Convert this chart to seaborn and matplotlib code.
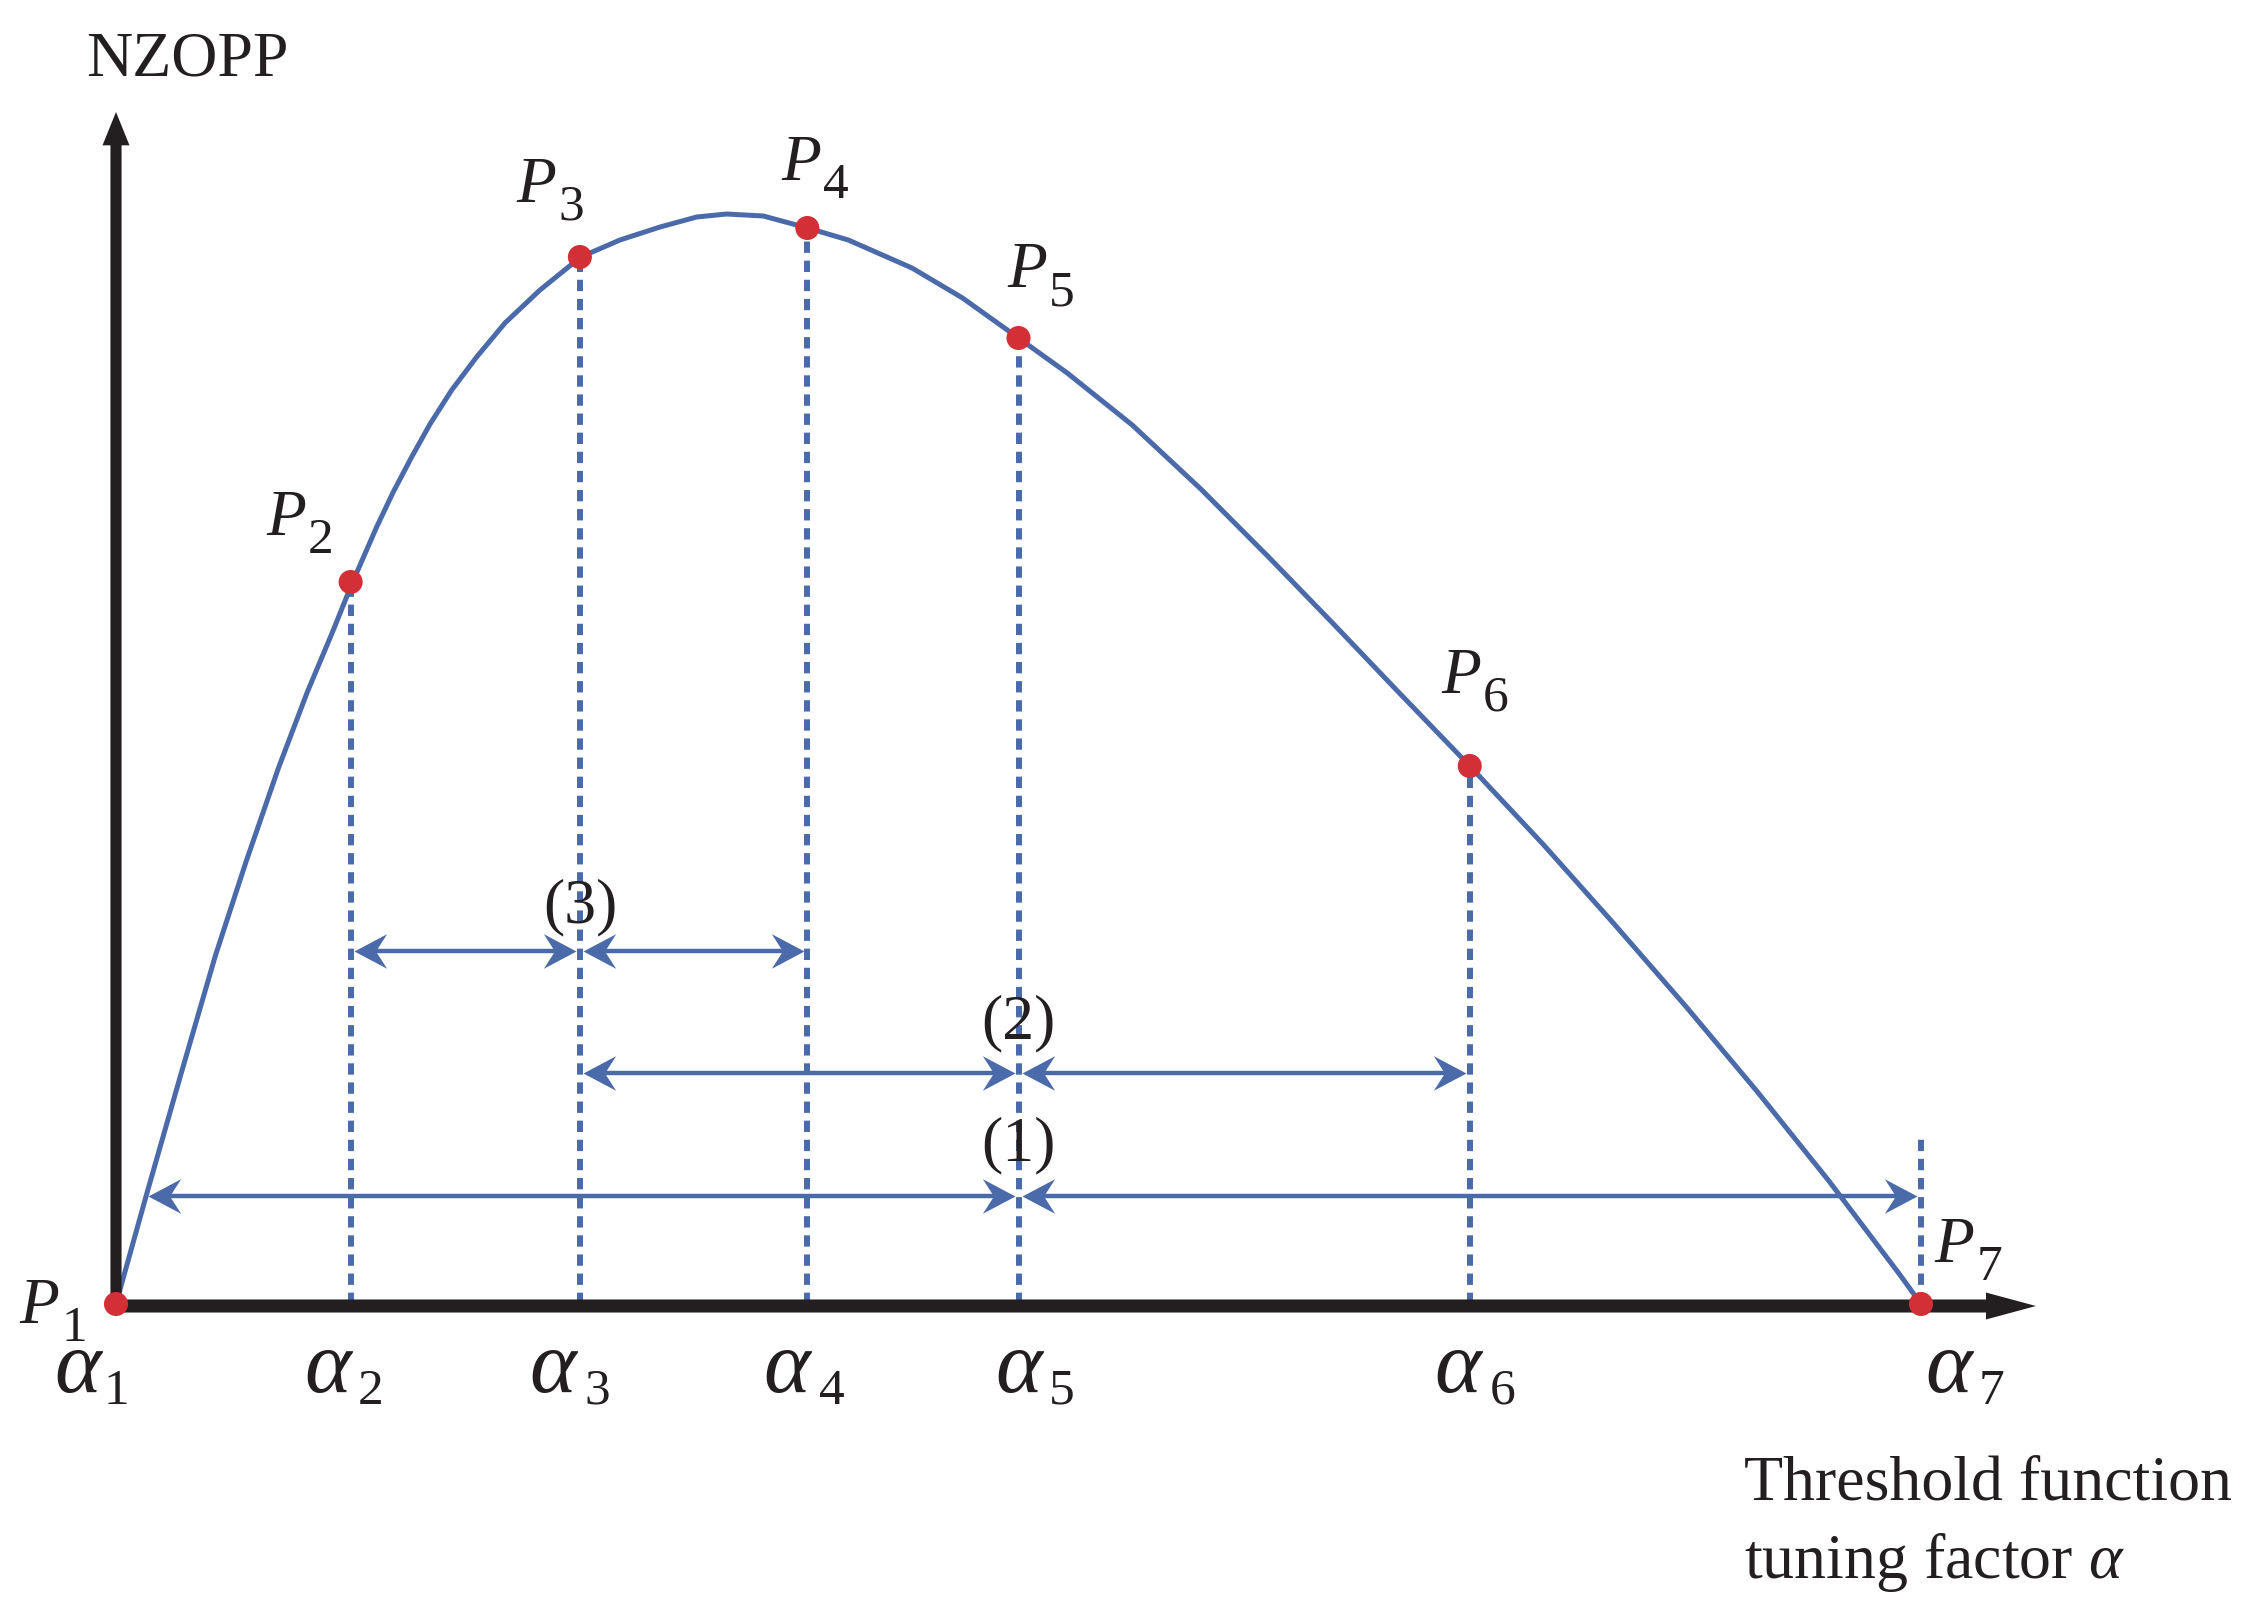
import numpy as np
import pandas as pd
import seaborn as sns
import matplotlib.pyplot as plt
from matplotlib.path import Path

# threshold function tuning factor alpha_1..alpha_7 and NZOPP at points P1..P7
alpha = [0.0, 1.3, 2.57, 3.83, 5.0, 7.5, 10.0]
nzopp = [0.0, 7.22, 10.47, 10.76, 9.66, 5.38, 0.0]
point_names = ["1", "2", "3", "4", "5", "6", "7"]

# NZOPP curve
curve_x = [0.0, 0.17, 0.36, 0.55, 0.72, 0.90, 1.06, 1.195, 1.311, 1.444, 1.536, 1.638,
           1.740, 1.860, 1.998, 2.155, 2.349, 2.575, 2.792, 3.014, 3.217, 3.383, 3.586,
           3.832, 4.057, 4.41, 4.69, 5.0, 5.27, 5.63, 6.01, 6.38, 6.74, 7.11, 7.5, 7.91,
           8.30, 8.70, 9.09, 9.49, 9.88, 10.0]
curve_y = [0.0, 1.10, 2.30, 3.48, 4.42, 5.36, 6.12, 6.70, 7.22, 7.77, 8.12, 8.47,
           8.80, 9.14, 9.47, 9.81, 10.14, 10.47, 10.64, 10.77, 10.87, 10.90, 10.88,
           10.76, 10.64, 10.36, 10.06, 9.66, 9.31, 8.79, 8.15, 7.48, 6.81, 6.11, 5.38, 4.59,
           3.80, 2.97, 2.13, 1.23, 0.30, 0.0]

# dashed guide at alpha_7 only reaches this height
guide7_top = 1.67

# double-headed interval arrows (1), (2), (3)
arrow_left = [1.3, 2.57, 2.57, 5.0, 0.16, 5.0]
arrow_right = [2.57, 3.83, 5.0, 7.5, 5.0, 10.0]
arrow_level = [3.53, 3.53, 2.31, 2.31, 1.08, 1.08]
interval_names = ["(3)", "(2)", "(1)"]
interval_x = [2.57, 5.0, 5.0]
interval_y = [3.82, 2.66, 1.44]

# label placement
p_label_x = [-0.427, 0.942, 2.327, 3.795, 5.047, 7.452, 10.183]
p_label_y = [-0.19, 7.69, 11.02, 11.24, 10.17, 6.11, 0.42]
a_label_x = [-0.211, 1.175, 2.421, 3.717, 5.003, 7.435, 10.155]
a_sub_x = [0.0, 1.413, 2.665, 3.967, 5.241, 7.684, 10.393]

blue = "#4a6aa9"
red = "#d22f36"
black = "#231f20"

sns.set_style("white")
plt.rcParams['font.family'] = ['Liberation Serif', 'DejaVu Serif']
plt.rcParams['mathtext.fontset'] = 'custom'
plt.rcParams['mathtext.rm'] = 'Liberation Serif'
plt.rcParams['mathtext.it'] = 'Liberation Serif:italic'

fig = plt.figure(figsize=(22.6, 16.16), dpi=100)
ax = fig.add_axes([0, 0, 1, 1])
ax.set_xlim(-116 / 180.5, (2260 - 116) / 180.5)
ax.set_ylim((1304 - 1616) / 100, 1304 / 100)
ax.axis("off")

# dashed guides from the axis up to each point
ax.vlines(alpha[1:6], 0, nzopp[1:6], colors=blue, lw=4.3, linestyles=(0, (1.9, 1.3)), zorder=1)
ax.vlines([alpha[6]], 0, guide7_top, colors=blue, lw=4.3, linestyles=(0, (1.9, 1.3)), zorder=1)

# curve and points
df = pd.DataFrame({"alpha": curve_x, "NZOPP": curve_y})
sns.lineplot(data=df, x="alpha", y="NZOPP", ax=ax, color=blue, lw=3.6, sort=False,
             estimator=None, zorder=3, solid_joinstyle="round")

# axes drawn as arrows
ax.annotate("", xy=(10.637, -0.02), xytext=(-0.03, -0.02),
            arrowprops=dict(arrowstyle="simple,head_length=1.8,head_width=0.97,tail_width=0.47",
                            mutation_scale=20, fc=black, ec="none", shrinkA=0, shrinkB=0),
            zorder=4)
ax.annotate("", xy=(0, 11.92), xytext=(0, -0.08),
            arrowprops=dict(arrowstyle="simple,head_length=1.2,head_width=0.97,tail_width=0.4",
                            mutation_scale=20, fc=black, ec="none", shrinkA=0, shrinkB=0),
            zorder=4)

sns.scatterplot(x=alpha, y=nzopp, ax=ax, s=300, color=red, edgecolor="none", zorder=6)

# stealth arrow heads
head_r = Path([(0, 0), (-1, 0.53), (-0.66, 0), (-1, -0.53), (0, 0)],
              [Path.MOVETO, Path.LINETO, Path.LINETO, Path.LINETO, Path.CLOSEPOLY])
head_l = Path([(0, 0), (1, 0.53), (0.66, 0), (1, -0.53), (0, 0)],
              [Path.MOVETO, Path.LINETO, Path.LINETO, Path.LINETO, Path.CLOSEPOLY])
for a, b, lev in zip(arrow_left, arrow_right, arrow_level):
    a = a + 0.02
    b = b - 0.02
    ax.annotate("", xy=(b, lev), xytext=(a, lev),
                arrowprops=dict(arrowstyle="-", color=blue, lw=3.2, shrinkA=12, shrinkB=12),
                zorder=2)
    ax.plot([a], [lev], marker=head_l, markersize=47, color=blue, mew=0, ls="none", zorder=2)
    ax.plot([b], [lev], marker=head_r, markersize=47, color=blue, mew=0, ls="none", zorder=2)

for name, x, y in zip(interval_names, interval_x, interval_y):
    ax.text(x, y, name, fontsize=46, ha="center", va="baseline", color=black)

# point labels P_i
for i in range(len(alpha)):
    ax.text(p_label_x[i], p_label_y[i], "P", fontsize=47, style="italic",
            ha="center", va="baseline", color=black)
    ax.text(p_label_x[i] + 0.194, p_label_y[i] - 0.18, point_names[i], fontsize=37,
            ha="center", va="baseline", color=black)

# tick labels alpha_i
for i in range(len(alpha)):
    ax.text(a_label_x[i], -0.88, "\u03b1", fontsize=64, style="italic",
            ha="center", va="baseline", color=black)
    ax.text(a_sub_x[i], -1.00, point_names[i], fontsize=37,
            ha="center", va="baseline", color=black)

ax.text(-0.166, 12.29, "NZOPP", fontsize=46, ha="left", va="baseline", color=black)
ax.text(9.02, -1.95, "Threshold function", fontsize=46, ha="left", va="baseline", color=black)
ax.text(9.02, -2.74, r"tuning factor $\alpha$", fontsize=46, ha="left", va="baseline", color=black)

plt.savefig("out.png", dpi=100)
